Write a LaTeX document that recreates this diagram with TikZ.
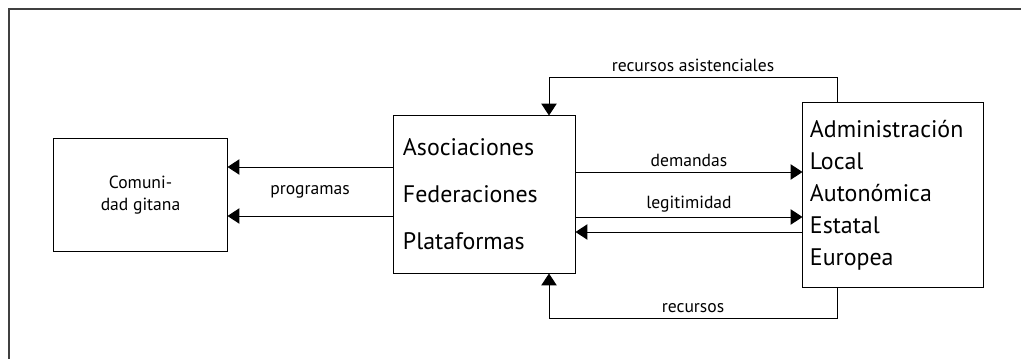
\documentclass[tikz,border=0pt]{standalone}
\usepackage{fontspec}
\setmainfont{PT Sans}
\usetikzlibrary{arrows.meta}
\tikzset{
  caja/.style={draw,line width=0.7pt,inner sep=0pt},
  flecha/.style={line width=0.7pt,-{Triangle[length=8.5pt,width=11pt]}},
  etiq/.style={font=\fontsize{12.5}{15}\selectfont},
}
\begin{document}
\begin{tikzpicture}[x=0.025cm,y=-0.025cm]
  \useasboundingbox (0,0) rectangle (1021,359);
  \draw[line width=1.2pt,black!75] (9,359) -- (9,9) -- (1021,9);
  \node (com) at (140.5,195) [caja,minimum width=4.325cm,minimum height=2.8cm,align=center,font=\fontsize{12.5}{15.6}\selectfont] {Comuni-\\dad gitana};
  \node (asoc) at (484.5,194.5) [caja,text width=4.075cm,inner xsep=0.225cm,minimum height=3.925cm,align=left,font=\fontsize{17}{33.4}\selectfont] {Asociaciones\\Federaciones\\Plataformas};
  \node (adm) at (893,195) [caja,text width=4.15cm,inner xsep=0.175cm,minimum height=4.6cm,align=left,font=\fontsize{17}{22.8}\selectfont] {Administración\\Local\\Autonómica\\Estatal\\Europea};
  \node (prog) at (310,192) [etiq] {programas};
  \draw[flecha] (asoc.west |- 0,167) -- (com.east |- 0,167);
  \draw[flecha] (asoc.west |- 0,216) -- (com.east |- 0,216);
  \draw[flecha] (asoc.east |- 0,172) -- node[etiq,above] {demandas} (adm.west |- 0,172);
  \draw[flecha] (asoc.east |- 0,217) -- node[etiq,above] {legitimidad} (adm.west |- 0,217);
  \draw[flecha] (adm.west |- 0,232) -- (asoc.east |- 0,232);
  \draw[flecha] (adm.north -| 837,0) |- node[etiq,above,pos=0.75] {recursos asistenciales} (549,77) -- (asoc.north -| 549,0);
  \draw[flecha] (adm.south -| 837,0) |- node[etiq,above,pos=0.75] {recursos} (549,318) -- (asoc.south -| 549,0);
\end{tikzpicture}
\end{document}
